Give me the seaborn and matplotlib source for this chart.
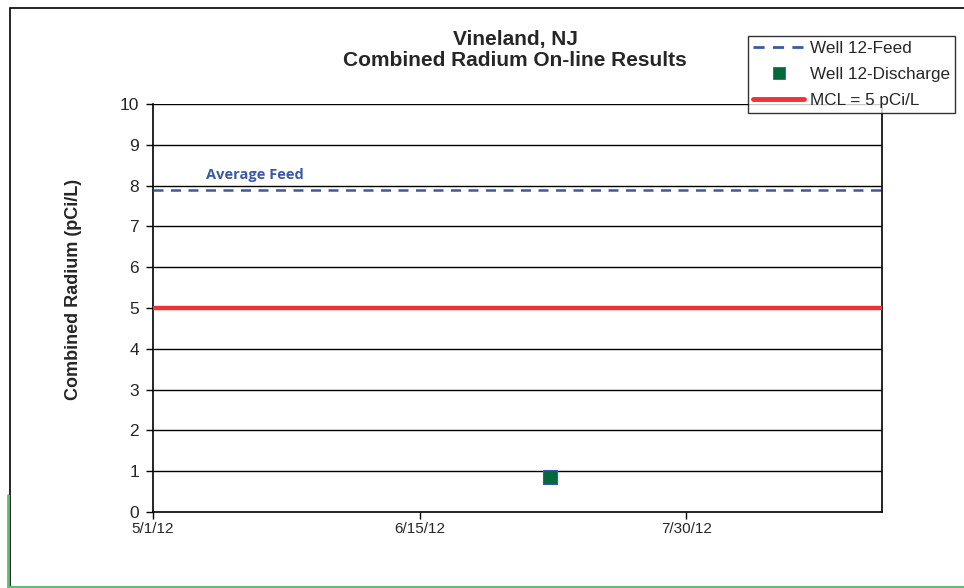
import pandas as pd
import numpy as np
import matplotlib
matplotlib.use("Agg")
import matplotlib.pyplot as plt
import matplotlib.dates as mdates
from matplotlib.lines import Line2D
from matplotlib.patches import Rectangle
import seaborn as sns

# Data
feed_dates = ["2012-05-01", "2012-09-01"]
feed_values = [7.9, 7.9]
discharge_dates = ["2012-07-07"]
discharge_values = [0.86]
mcl_dates = ["2012-05-01", "2012-09-01"]
mcl_values = [5, 5]
tick_dates = ["2012-05-01", "2012-06-15", "2012-07-30"]

sns.set_style("white")
plt.rcParams['font.family'] = ['Liberation Sans', 'DejaVu Sans']

feed = pd.DataFrame({"date": pd.to_datetime(feed_dates), "value": feed_values})
discharge = pd.DataFrame({"date": pd.to_datetime(discharge_dates), "value": discharge_values})
mcl = pd.DataFrame({"date": pd.to_datetime(mcl_dates), "value": mcl_values})

fig = plt.figure(figsize=(9.64, 5.88), dpi=100)
ax = fig.add_axes([153 / 964, 1 - 512 / 588, (882 - 153) / 964, (512 - 104) / 588])

# horizontal gridlines
for y in range(1, 11):
    ax.axhline(y, color="black", lw=1, zorder=1)

feed_color = "#3a58ad"
mcl_color = "#ee3338"
dis_color = "#006a3a"

sns.lineplot(data=mcl, x="date", y="value", ax=ax, color=mcl_color, lw=3.2, zorder=3)
sns.lineplot(data=feed, x="date", y="value", ax=ax, color=feed_color, lw=1.8,
             linestyle=(0, (4, 3)), zorder=4)
sns.scatterplot(data=discharge, x="date", y="value", ax=ax, marker="s", s=90,
                color=dis_color, edgecolor="#3a58ad", linewidth=0.8, zorder=5)

ax.set_xlim(pd.Timestamp("2012-05-01"), pd.Timestamp("2012-09-01"))
ax.set_ylim(0, 10)
ax.set_yticks(range(0, 11))
ax.set_xticks(pd.to_datetime(tick_dates))
ax.xaxis.set_major_formatter(mdates.DateFormatter("%-m/%-d/%y"))
ax.tick_params(axis="both", labelsize=11, length=5, width=1, color="black",
               direction="out", bottom=True, left=True)
ax.tick_params(axis="y", labelsize=12.5, pad=5)
ax.tick_params(axis="x", pad=2)

for s in ["left", "bottom", "right"]:
    ax.spines[s].set_color("black")
    ax.spines[s].set_linewidth(1.2)
ax.spines["top"].set_visible(False)

ax.set_xlabel("")
ax.set_ylabel("Combined Radium (pCi/L)", fontsize=13, fontweight="bold")
ax.yaxis.set_label_coords(-0.098, 0.545)

ax.text(pd.Timestamp("2012-05-10"), 8.1, "Average Feed", color=feed_color,
        fontsize=10.5, fontweight="bold", family=["Open Sans", "DejaVu Sans"],
        ha="left", va="bottom")

fig.text(515 / 964, 1 - 50 / 588, "Vineland, NJ\nCombined Radium On-line Results",
         ha="center", va="center", fontsize=15, fontweight="bold",
         linespacing=1.15)

handles = [
    Line2D([], [], color=feed_color, lw=2, linestyle=(0, (4, 3))),
    Line2D([], [], color=dis_color, marker="s", markersize=8, lw=0,
           markeredgecolor="#3a58ad", markeredgewidth=0.6),
    Line2D([], [], color=mcl_color, lw=3.5),
]
labels = ["Well 12-Feed", "Well 12-Discharge", "MCL = 5 pCi/L"]
leg = fig.legend(handles, labels, loc="upper left",
                 bbox_to_anchor=(748 / 964, 1 - 36 / 588), fontsize=12.3,
                 frameon=True, fancybox=False, edgecolor="black",
                 handlelength=3.0, handletextpad=0.3, borderpad=0.3,
                 labelspacing=0.65, borderaxespad=0)
leg.get_frame().set_linewidth(1.0)

# outer chart border
fig.add_artist(Rectangle((10 / 964, 1.5 / 588), 1.0, 1 - 9.5 / 588,
                         transform=fig.transFigure, fill=False,
                         edgecolor="black", lw=1.2))
fig.add_artist(Line2D([8 / 964, 8 / 964], [1 / 588, 1 - 495 / 588],
                      transform=fig.transFigure, color="#5cbf72", lw=2))
fig.add_artist(Line2D([8 / 964, 1], [0.6 / 588, 0.6 / 588],
                      transform=fig.transFigure, color="#5cbf72", lw=1.5))

fig.savefig("out.png", dpi=100)
